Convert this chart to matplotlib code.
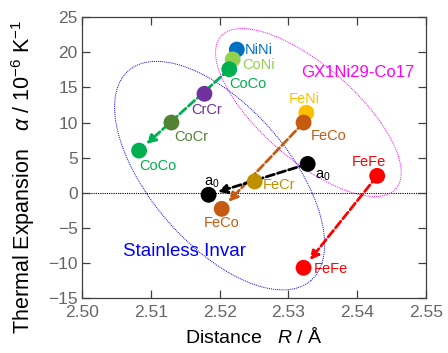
import numpy as np
import matplotlib
matplotlib.use("Agg")
import matplotlib.pyplot as plt

plt.rcParams["font.family"] = ["Liberation Sans", "DejaVu Sans"]
plt.rcParams["mathtext.fontset"] = "custom"
plt.rcParams["mathtext.rm"] = "Liberation Sans"
plt.rcParams["mathtext.it"] = "Liberation Sans:italic"

# pair labels, bond distance R (Å) and thermal expansion alpha (1e-6/K)
names = ["NiNi", "CoNi", "CoCo", "CrCr", "CoCr", "CoCo", "FeNi",
         "FeCo", "a0", "FeFe", "FeCr", "a0", "FeCo", "FeFe"]
R = [2.5225, 2.5219, 2.5214, 2.5178, 2.5130, 2.5083, 2.5326,
     2.5322, 2.5328, 2.5429, 2.5251, 2.5184, 2.5203, 2.5322]
alpha = [20.4, 19.0, 17.6, 14.1, 10.0, 6.0, 11.4,
         10.0, 4.1, 2.4, 1.6, -0.3, -2.3, -10.7]
colors = ["#0070C0", "#92D050", "#00B050", "#7030A0", "#548235", "#00B050", "#FFC000",
          "#C55A11", "#000000", "#FF0000", "#BF9000", "#000000", "#C55A11", "#FF0000"]
# label offsets (pixels) and alignment
offsets = [(8, 0), (10, -6), (0, -15), (2, -16), (3, -14), (0, -15), (-2, 14),
           (7, -13), (7, -12), (-8, 14), (8, -4), (3, 12), (0, -14), (10, -1)]
aligns = ["left", "left", "left", "center", "left", "left", "center",
          "left", "left", "center", "left", "center", "center", "left"]

# arrows: (from index, to index, color)
arrows = [(2, 5, "#00B050"), (7, 12, "#C55A11"), (8, 11, "#000000"), (9, 13, "#FF0000")]

# group ellipses: center (R, alpha), semi axes in pixels, angle
groups = [("GX1Ni29-Co17", "#FF00FF", (2.5329, 11.43), 116, 47, -41, (2.5318, 17.1), 12),
          ("Stainless Invar", "#0000FF", (2.5200, 2.43), 139, 69, -49, (2.5059, -8.4), 13.5)]

fig = plt.figure(figsize=(4.48, 3.53), dpi=100)
ax = fig.add_axes([0.183, 0.156, 0.768, 0.795])
ax.set_xlim(2.50, 2.55)
ax.set_ylim(-15, 25)
ax.set_xticks(np.arange(2.50, 2.551, 0.01))
ax.set_xticklabels([f"{v:.2f}" for v in np.arange(2.50, 2.551, 0.01)])
ax.set_yticks(range(-15, 26, 5))
ax.tick_params(direction="in", top=True, right=True, length=6, width=0.9,
               color="#404040", labelcolor="#666666", labelsize=12.5)
ax.tick_params(axis="y", pad=3)
ax.tick_params(axis="x", pad=5)
for s in ax.spines.values():
    s.set_color("#404040")
    s.set_linewidth(0.9)

ax.axhline(0, color="black", lw=0.8, ls=(0, (1, 1)), zorder=1)

# ellipses drawn in display pixels
for text, col, c, a, b, ang, tpos, fs in groups:
    cx, cy = ax.transData.transform(c)
    t = np.linspace(0, 2 * np.pi, 400)
    th = np.deg2rad(ang)
    px = cx + a * np.cos(t) * np.cos(th) - b * np.sin(t) * np.sin(th)
    py = cy + a * np.cos(t) * np.sin(th) + b * np.sin(t) * np.cos(th)
    d = ax.transData.inverted().transform(np.column_stack([px, py]))
    ax.plot(d[:, 0], d[:, 1], color=col, lw=0.7, ls=(0, (1, 1)), zorder=1)
    ax.text(tpos[0], tpos[1], text, color=col, fontsize=fs, ha="left", va="center")

for i0, i1, col in arrows:
    ax.annotate("", xy=(R[i1], alpha[i1]), xytext=(R[i0], alpha[i0]),
                arrowprops=dict(arrowstyle="-|>", color=col, lw=2.0, ls=(0, (3, 1.2)),
                                mutation_scale=13, shrinkA=0, shrinkB=7),
                zorder=2)

ax.scatter(R, alpha, s=130, c=colors, edgecolors="none", zorder=3)

for i, n in enumerate(names):
    lab = r"$\mathregular{a_0}$" if n == "a0" else n
    ax.annotate(lab, (R[i], alpha[i]), xytext=offsets[i], textcoords="offset pixels",
                ha=aligns[i], va="center", color=colors[i], fontsize=10.5, zorder=4)

ax.set_xlabel(r"Distance   $R$ / Å", fontsize=14)
ax.set_ylabel(r"Thermal Expansion   $\alpha$ / 10$^{-6}$ K$^{-1}$", fontsize=15.5)
ax.xaxis.set_label_coords(0.5, -0.105)
ax.yaxis.set_label_coords(-0.131, 0.43)

fig.savefig("out.png", dpi=100)
